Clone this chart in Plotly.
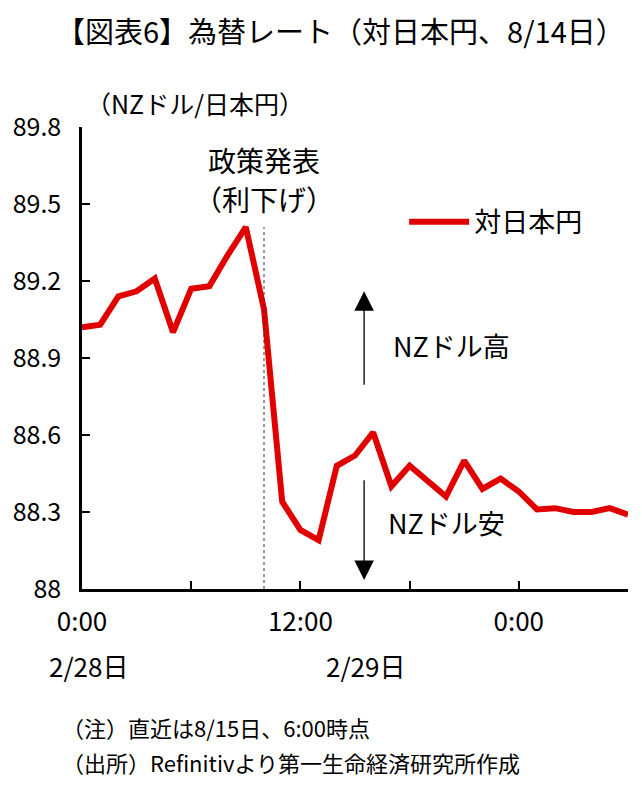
import plotly.graph_objects as go

# hourly NZD/JPY, 2/28 0:00 -> 2/29 6:00
hours = list(range(31))
nzd_jpy = [89.02, 89.03, 89.14, 89.16, 89.21, 89.00, 89.17, 89.18, 89.30, 89.41,
           89.09, 88.34, 88.23, 88.19, 88.48, 88.52, 88.61, 88.40, 88.48, 88.42,
           88.36, 88.50, 88.39, 88.43, 88.38, 88.31, 88.315, 88.30, 88.30, 88.315,
           88.29]

x_ticks = [0, 6, 12, 18, 24, 30]
x_labels = ["0:00", "", "12:00", "", "0:00", ""]
y_ticks = [88, 88.3, 88.6, 88.9, 89.2, 89.5, 89.8]
y_labels = ["88", "88.3", "88.6", "88.9", "89.2", "89.5", "89.8"]

policy_hour = 10          # 政策発表（利下げ）
policy_top = 89.41

FONT = "Noto Sans CJK JP"
RED = "#e00000"

fig = go.Figure()
fig.add_trace(go.Scatter(
    x=hours, y=nzd_jpy, mode="lines", name="対日本円",
    line=dict(color=RED, width=6),
))

# policy announcement marker
fig.add_shape(type="line", xref="x", yref="y",
              x0=policy_hour, x1=policy_hour, y0=88, y1=policy_top,
              line=dict(color="#333", width=1, dash="dot"))

# up / down arrows
fig.add_annotation(x=15.5, y=89.16, ax=15.5, ay=88.79, xref="x", yref="y",
                   axref="x", ayref="y", text="", showarrow=True,
                   arrowhead=2, arrowsize=3, arrowwidth=1.3, arrowcolor="black")
fig.add_annotation(x=15.5, y=88.035, ax=15.5, ay=88.43, xref="x", yref="y",
                   axref="x", ayref="y", text="", showarrow=True,
                   arrowhead=2, arrowsize=3, arrowwidth=1.3, arrowcolor="black")
fig.add_annotation(x=20.3, y=88.95, xref="x", yref="y", text="NZドル高",
                   showarrow=False, font=dict(size=27))
fig.add_annotation(x=20.0, y=88.26, xref="x", yref="y", text="NZドル安",
                   showarrow=False, font=dict(size=27))

# texts around the plot (paper coords are relative to the plot area)
def note(text, x, y, size, xanchor="center", xref="paper"):
    fig.add_annotation(x=x, y=y, xref=xref, yref="paper", xanchor=xanchor,
                       yanchor="middle", text=text, showarrow=False,
                       font=dict(size=size))

note("【図表6】為替レート（対日本円、8/14日）", 0.473, 1.21, 29)
note("（NZドル/日本円）", 0.003, 1.052, 25, xanchor="left")
note("2/28日", 0.011, -0.165, 26)
note("2/29日", 15.55, -0.165, 26, xref="x")
note("（注）直近は8/15日、6:00時点", -0.04, -0.299, 22, xanchor="left")
note("（出所）Refinitivより第一生命経済研究所作成", -0.04, -0.3745, 22, xanchor="left")

fig.add_annotation(x=policy_hour, y=89.67, xref="x", yref="y",
                   text="政策発表", showarrow=False, font=dict(size=28))
fig.add_annotation(x=policy_hour, y=89.52, xref="x", yref="y",
                   text="（利下げ）", showarrow=False, font=dict(size=28))

fig.update_xaxes(range=[0, 30], tickvals=x_ticks, ticktext=x_labels,
                 ticks="inside", ticklen=8, tickwidth=2, tickcolor="black",
                 showline=True, linecolor="black", linewidth=2.5,
                 showgrid=False, zeroline=False, tickfont=dict(size=26),
                 ticklabelstandoff=8, automargin=False)
fig.update_yaxes(range=[88, 89.8], tickvals=y_ticks, ticktext=y_labels,
                 ticks="inside", ticklen=8, tickwidth=2, tickcolor="black",
                 showline=True, linecolor="black", linewidth=2.5,
                 showgrid=False, zeroline=False, tickfont=dict(size=25),
                 ticklabelstandoff=13, automargin=False)

# page body adds an 8px margin, so the figure is 8px smaller on each side
fig.update_layout(
    width=634, height=770,
    margin=dict(l=74, r=14, t=119, b=189),
    paper_bgcolor="white", plot_bgcolor="white",
    font=dict(family=FONT, color="black"),
    showlegend=True,
    legend=dict(x=0.59, y=0.794, xanchor="left", yanchor="middle",
                itemwidth=60, font=dict(size=27), bgcolor="rgba(0,0,0,0)"),
)

fig.write_html("out.html")
